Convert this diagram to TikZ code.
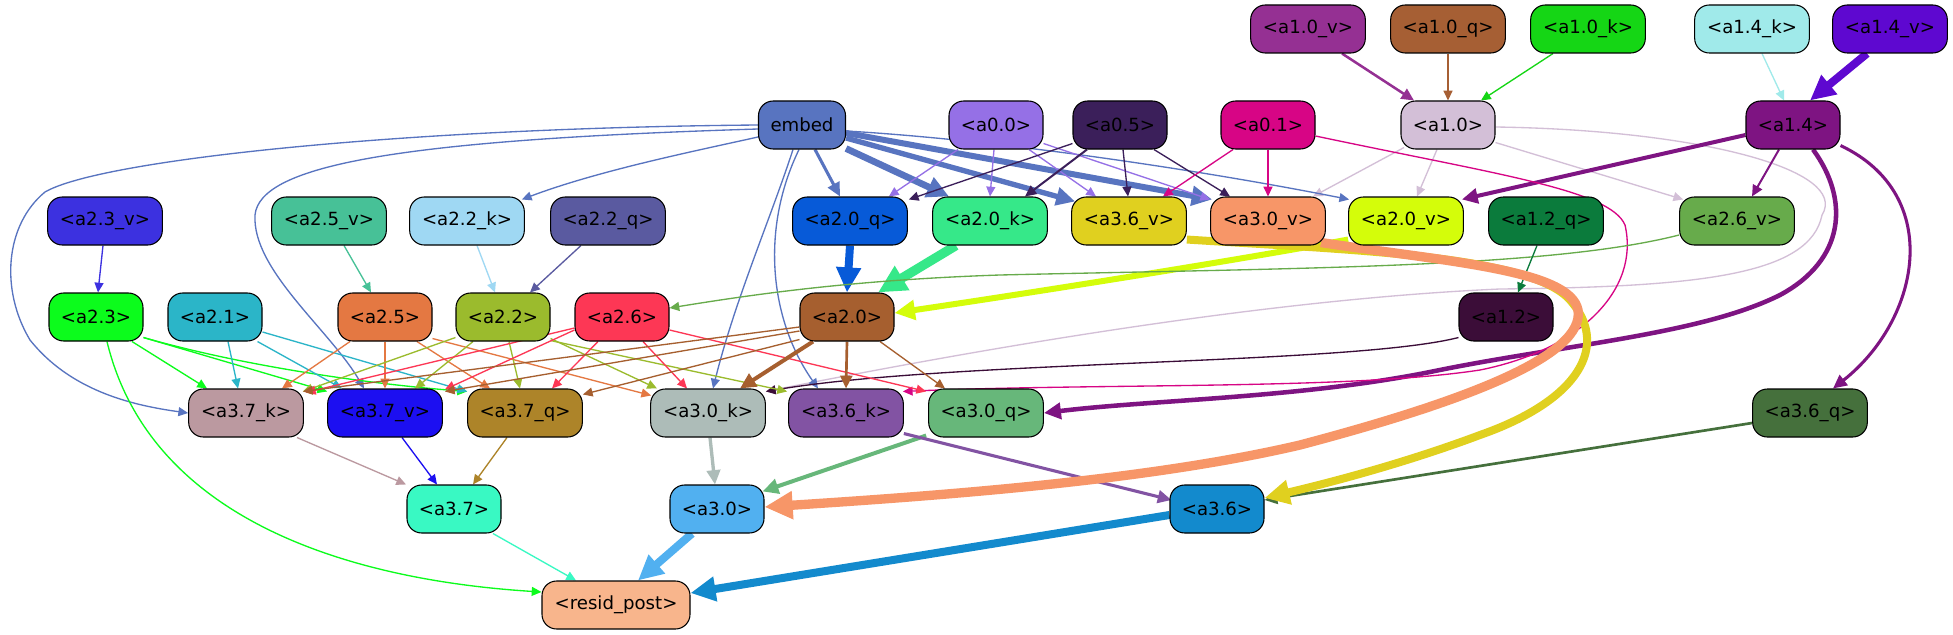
\documentclass[tikz,border=0pt]{standalone}
\usepackage{fontspec}
\setmainfont{DejaVu Sans}
\usetikzlibrary{arrows.meta,calc}
\pgfdeclarelayer{bg}
\pgfdeclarelayer{edges}
\pgfsetlayers{bg,edges,main}
\definecolor{cA10v}{HTML}{953093}
\definecolor{cA10q}{HTML}{A65F34}
\definecolor{cA10k}{HTML}{15D615}
\definecolor{cA14k}{HTML}{A0EAEA}
\definecolor{cA14v}{HTML}{5E08D0}
\definecolor{cEmb}{HTML}{5874C0}
\definecolor{cA00}{HTML}{9570E6}
\definecolor{cA05}{HTML}{3B1F5A}
\definecolor{cA01}{HTML}{D70585}
\definecolor{cA10}{HTML}{D3BFD7}
\definecolor{cA14}{HTML}{7E1482}
\definecolor{cA23v}{HTML}{3C31E0}
\definecolor{cA25v}{HTML}{47C197}
\definecolor{cA22k}{HTML}{9FD8F3}
\definecolor{cA22q}{HTML}{5A5AA0}
\definecolor{cA20q}{HTML}{075AD8}
\definecolor{cA20k}{HTML}{36E889}
\definecolor{cA36v}{HTML}{E0D01F}
\definecolor{cA30v}{HTML}{F79668}
\definecolor{cA20v}{HTML}{D4FD0A}
\definecolor{cA12q}{HTML}{0B7B3C}
\definecolor{cA26v}{HTML}{67AB4B}
\definecolor{cA23}{HTML}{0CFC1C}
\definecolor{cA21}{HTML}{2BB5C8}
\definecolor{cA25}{HTML}{E47842}
\definecolor{cA22}{HTML}{9BBB2D}
\definecolor{cA26}{HTML}{FD3755}
\definecolor{cA20}{HTML}{A65F2F}
\definecolor{cA12}{HTML}{3B0D38}
\definecolor{cA37k}{HTML}{BB99A0}
\definecolor{cA37v}{HTML}{1C0FF1}
\definecolor{cA37q}{HTML}{AD8429}
\definecolor{cA30k}{HTML}{ADBCB8}
\definecolor{cA36k}{HTML}{8253A3}
\definecolor{cA30q}{HTML}{67B77A}
\definecolor{cA36q}{HTML}{45703C}
\definecolor{cA37}{HTML}{39F9C3}
\definecolor{cA30}{HTML}{51B0F0}
\definecolor{cA36}{HTML}{138ACD}
\definecolor{cRes}{HTML}{F8B58C}
\begin{document}
\begin{tikzpicture}[x=0.75pt,y=-0.75pt,
  box/.style={draw=black, line width=0.8pt, rounded corners=11pt, minimum height=36pt, inner sep=0pt, font=\fontsize{13.6}{16}\selectfont, text=black},
  bw/.style={box, minimum width=86pt},
  bs/.style={box, minimum width=70.5pt},
  e/.style={-{Triangle[length=5pt 2.3,width=4.5pt 2.2]}, line width=1pt, line join=round},
]
\useasboundingbox (0,0) rectangle (1953,635);
\begin{pgfonlayer}{bg}
\fill[white] (0,0) rectangle (1953,635);
\end{pgfonlayer}
% row 0
\node[bw, fill=cA10v] (a10v) at (1308,29) {<a1.0\_v>};
\node[bw, fill=cA10q] (a10q) at (1448,29) {<a1.0\_q>};
\node[bw, fill=cA10k] (a10k) at (1588,29) {<a1.0\_k>};
\node[bw, fill=cA14k] (a14k) at (1752,29) {<a1.4\_k>};
\node[bw, fill=cA14v] (a14v) at (1890,29) {<a1.4\_v>};
% row 1
\node[box, minimum width=65.25pt, fill=cEmb] (embed) at (802,125) {embed};
\node[bs, fill=cA00] (a00) at (996,125) {<a0.0>};
\node[bs, fill=cA05] (a05) at (1120,125) {<a0.5>};
\node[bs, fill=cA01] (a01) at (1268,125) {<a0.1>};
\node[bs, fill=cA10] (a10) at (1448,125) {<a1.0>};
\node[bs, fill=cA14] (a14) at (1793,125) {<a1.4>};
% row 2
\node[bw, fill=cA23v] (a23v) at (105,221) {<a2.3\_v>};
\node[bw, fill=cA25v] (a25v) at (329,221) {<a2.5\_v>};
\node[bw, fill=cA22k] (a22k) at (467,221) {<a2.2\_k>};
\node[bw, fill=cA22q] (a22q) at (608,221) {<a2.2\_q>};
\node[bw, fill=cA20q] (a20q) at (850,221) {<a2.0\_q>};
\node[bw, fill=cA20k] (a20k) at (990,221) {<a2.0\_k>};
\node[bw, fill=cA36v] (a36v) at (1129,221) {<a3.6\_v>};
\node[bw, fill=cA30v] (a30v) at (1268,221) {<a3.0\_v>};
\node[bw, fill=cA20v] (a20v) at (1406,221) {<a2.0\_v>};
\node[bw, fill=cA12q] (a12q) at (1546,221) {<a1.2\_q>};
\node[bw, fill=cA26v] (a26v) at (1737,221) {<a2.6\_v>};
% row 3
\node[bs, fill=cA23] (a23) at (96,317) {<a2.3>};
\node[bs, fill=cA21] (a21) at (215,317) {<a2.1>};
\node[bs, fill=cA25] (a25) at (385,317) {<a2.5>};
\node[bs, fill=cA22] (a22) at (503,317) {<a2.2>};
\node[bs, fill=cA26] (a26) at (622,317) {<a2.6>};
\node[bs, fill=cA20] (a20) at (847,317) {<a2.0>};
\node[bs, fill=cA12] (a12) at (1506,317) {<a1.2>};
% row 4
\node[bw, fill=cA37k] (a37k) at (246,413) {<a3.7\_k>};
\node[bw, fill=cA37v] (a37v) at (385,413) {<a3.7\_v>};
\node[bw, fill=cA37q] (a37q) at (525,413) {<a3.7\_q>};
\node[bw, fill=cA30k] (a30k) at (708,413) {<a3.0\_k>};
\node[bw, fill=cA36k] (a36k) at (846,413) {<a3.6\_k>};
\node[bw, fill=cA30q] (a30q) at (986,413) {<a3.0\_q>};
\node[bw, fill=cA36q] (a36q) at (1810,413) {<a3.6\_q>};
% row 5
\node[bs, fill=cA37] (a37) at (454,509) {<a3.7>};
\node[bs, fill=cA30] (a30) at (717,509) {<a3.0>};
\node[bs, fill=cA36] (a36) at (1217,509) {<a3.6>};
% row 6
\node[box, minimum width=111pt, fill=cRes] (res) at (616,605) {<resid\_post>};

\begin{pgfonlayer}{edges}
% top
\draw[e,color=cA10v,line width=1.9pt] ($(a10v.south)+(34,0)$) -- ($(a10.north)+(-34,0)$);
\draw[e,color=cA10q] (a10q.south) -- (a10.north);
\draw[e,color=cA10k] ($(a10k.south)+(-35,0)$) -- ($(a10.north)+(33,0)$);
\draw[e,color=cA14k] ($(a14k.south)+(10,0)$) -- ($(a14.north)+(-9,0)$);
\draw[e,color=cA14v,line width=6pt] ($(a14v.south)+(-23,0)$) -- ($(a14.north)+(17,0)$);
% a1.0
\draw[e,color=cA10] ($(a10.south)+(-44,-2)$) -- ($(a30v.north)+(45,0)$);
\draw[e,color=cA10] ($(a10.south)+(-11,0)$) -- ($(a20v.north)+(11,0)$);
\draw[e,color=cA10] ($(a10.south east)+(0,-7)$) -- ($(a26v.north west)+(4,3)$);
\draw[e,color=cA10] ($(a10.east)+(0,2)$) .. controls (1700,130) and (1850,170) .. (1822,215) .. controls (1810,275) and (1700,287) .. (1500,289) .. controls (1250,300) and (950,355) .. ($(a30k.north east)+(0,3)$);
% a1.4
\draw[e,color=cA14,line width=3pt] ($(a14.west)+(0,10)$) -- ($(a20v.north east)+(-2,3)$);
\draw[e,color=cA14,line width=1.5pt] ($(a14.south)+(-14,0)$) -- ($(a26v.north)+(15,0)$);
\draw[e,color=cA14,line width=3.4pt] ($(a14.south)+(20,0)$) .. controls (1850,200) and (1845,260) .. (1780,295) .. controls (1700,335) and (1560,345) .. (1430,372) .. controls (1300,398) and (1150,400) .. (a30q.east);
\draw[e,color=cA14,line width=2.3pt] ($(a14.south east)+(0,-4)$) .. controls (1945,195) and (1920,320) .. ($(a36q.north)+(23,0)$);
% embed
\draw[e,color=cEmb,line width=2.3pt] ($(embed.south)+(13,0)$) -- ($(a20q.north)+(-10,0)$);
\draw[e,color=cEmb,line width=5pt] ($(embed.south east)+(0,-1)$) -- ($(a20k.north)+(-41,0)$);
\draw[e,color=cEmb,line width=4pt] ($(embed.east)+(0,13)$) -- ($(a36v.north west)+(4,5)$);
\draw[e,color=cEmb,line width=4.5pt] ($(embed.east)+(0,8)$) -- ($(a30v.north west)+(2,3)$);
\draw[e,color=cEmb] ($(embed.east)+(0,6)$) .. controls (1000,140) and (1200,170) .. ($(a20v.north west)+(1,3)$);
\draw[e,color=cEmb] ($(embed.west)+(0,12)$) .. controls (700,150) and (600,170) .. ($(a22k.north east)+(-3,3)$);
\draw[e,color=cEmb] (embed.west) .. controls (400,128) and (100,160) .. (45,192) .. controls (5,225) and (0,290) .. (30,340) .. controls (70,390) and (130,405) .. (a37k.west);
\draw[e,color=cEmb] ($(embed.west)+(0,4)$) .. controls (400,140) and (260,165) .. (255,215) .. controls (252,270) and (330,330) .. ($(a37v.north)+(-21,0)$);
\draw[e,color=cEmb] ($(embed.south)+(-9,0)$) .. controls (770,220) and (735,300) .. ($(a30k.north)+(5,0)$);
\draw[e,color=cEmb] ($(embed.south)+(-3,0)$) .. controls (760,230) and (770,320) .. ($(a36k.north)+(-28,0)$);
% a0.0
\draw[e,color=cA00] ($(a00.south)+(-38,0)$) -- ($(a20q.north east)+(-19,0)$);
\draw[e,color=cA00] ($(a00.south)+(-2,0)$) -- (a20k.north);
\draw[e,color=cA00] ($(a00.south)+(33,0)$) -- ($(a36v.north)+(-33,0)$);
\draw[e,color=cA00] ($(a00.south east)+(0,-6)$) -- ($(a30v.north west)+(0,3)$);
% a0.5
\draw[e,color=cA05] ($(a05.south west)+(0,-6)$) -- ($(a20q.north east)+(1,3)$);
\draw[e,color=cA05,line width=1.5pt] ($(a05.south)+(-33,0)$) -- ($(a20k.north)+(35,0)$);
\draw[e,color=cA05] ($(a05.south)+(3,0)$) -- ($(a36v.north)+(-1,0)$);
\draw[e,color=cA05] ($(a05.south)+(34,0)$) -- ($(a30v.north)+(-38,0)$);
% a0.1
\draw[e,color=cA01] ($(a01.south)+(-35,0)$) -- ($(a36v.north)+(34,0)$);
\draw[e,color=cA01] (a01.south) -- (a30v.north);
\draw[e,color=cA01] ($(a01.east)+(0,11)$) .. controls (1500,175) and (1610,190) .. (1625,225) .. controls (1640,290) and (1580,350) .. (1480,370) .. controls (1350,390) and (1100,383) .. ($(a36k.north east)+(-1,3)$);
% row 2 -> row 3
\draw[e,color=cA23v] ($(a23v.south)+(-2,0)$) -- ($(a23.north)+(2,0)$);
\draw[e,color=cA25v] ($(a25v.south)+(15,0)$) -- ($(a25.north)+(-14,0)$);
\draw[e,color=cA22k] ($(a22k.south)+(10,0)$) -- ($(a22.north)+(-8,0)$);
\draw[e,color=cA22q] ($(a22q.south)+(-27,0)$) -- ($(a22.north)+(27,0)$);
\draw[e,color=cA20q,line width=6pt] (a20q.south) -- (a20.north);
\draw[e,color=cA20k,line width=7pt] ($(a20k.south)+(-34,0)$) -- ($(a20.north)+(31,0)$);
\draw[e,color=cA20v,line width=4.5pt] ($(a20v.south west)+(0,-6)$) .. controls (1250,258) and (1050,290) .. ($(a20.east)+(0,-4)$);
\draw[e,color=cA26v] ($(a26v.west)+(0,14)$) .. controls (1550,268) and (1300,268) .. (1000,275) .. controls (850,280) and (750,295) .. ($(a26.east)+(0,-9)$);
\draw[e,color=cA12q] ($(a12q.south)+(-9,0)$) -- ($(a12.north)+(12,0)$);
\draw[e,color=cA12] ($(a12.south west)+(0,-4)$) .. controls (1350,365) and (950,360) .. ($(a30k.north east)+(0,3)$);
% a2.3
\draw[e,color=cA23] ($(a23.south)+(36,0)$) -- ($(a37k.north)+(-39,0)$);
\draw[e,color=cA23] ($(a23.south east)+(0,-4)$) -- ($(a37v.north west)+(0,3)$);
\draw[e,color=cA23] ($(a23.south east)+(0,-4)$) .. controls (250,368) and (380,385) .. ($(a37q.north west)+(0,3)$);
\draw[e,color=cA23] ($(a23.south)+(11,0)$) .. controls (150,520) and (350,580) .. ($(res.west)+(0,-13)$);
% a2.1
\draw[e,color=cA21] ($(a21.south)+(13,0)$) -- ($(a37k.north)+(-8,0)$);
\draw[e,color=cA21] ($(a21.south east)+(-5,0)$) -- ($(a37v.north)+(-43,0)$);
\draw[e,color=cA21] ($(a21.east)+(0,15)$) -- ($(a37q.north west)+(0,3)$);
% a2.5
\draw[e,color=cA25] ($(a25.south)+(-35,0)$) -- ($(a37k.north)+(36,0)$);
\draw[e,color=cA25] (a25.south) -- (a37v.north);
\draw[e,color=cA25] ($(a25.south)+(32,0)$) -- ($(a37q.north)+(-35,0)$);
\draw[e,color=cA25] ($(a25.south east)+(0,-3)$) -- ($(a30k.north west)+(1,7)$);
% a2.2
\draw[e,color=cA22] ($(a22.south west)+(0,-4)$) -- ($(a37k.north east)+(-1,3)$);
\draw[e,color=cA22] ($(a22.south)+(-30,0)$) -- ($(a37v.north)+(30,0)$);
\draw[e,color=cA22] ($(a22.south)+(6,0)$) -- ($(a37q.north)+(-5,0)$);
\draw[e,color=cA22] ($(a22.south east)+(0,-3)$) -- ($(a30k.north)+(-51,0)$);
\draw[e,color=cA22] ($(a22.south east)+(0,-1)$) -- ($(a36k.north west)+(-1,3)$);
% a2.6
\draw[e,color=cA26] ($(a26.west)+(0,11)$) -- ($(a37k.north east)+(2,4)$);
\draw[e,color=cA26] ($(a26.west)+(0,13)$) -- ($(a37v.north east)+(2,1)$);
\draw[e,color=cA26] ($(a26.south)+(-24,0)$) -- ($(a37q.north)+(27,0)$);
\draw[e,color=cA26] ($(a26.south)+(21,0)$) -- ($(a30k.north)+(-21,0)$);
\draw[e,color=cA26] ($(a26.east)+(0,13)$) -- ($(a30q.north west)+(-2,3)$);
% a2.0
\draw[e,color=cA20] ($(a20.west)+(0,10)$) -- ($(a37k.north east)+(-1,3)$);
\draw[e,color=cA20] ($(a20.west)+(0,14)$) -- ($(a37v.north east)+(2,3)$);
\draw[e,color=cA20] ($(a20.south west)+(0,-2)$) -- ($(a37q.north east)+(0,6)$);
\draw[e,color=cA20,line width=3pt] ($(a20.south)+(-34,0)$) -- ($(a30k.north)+(32,0)$);
\draw[e,color=cA20,line width=2pt] (a20.south) -- (a36k.north);
\draw[e,color=cA20] ($(a20.south)+(33,0)$) -- ($(a30q.north)+(-41,0)$);
% row 4 -> row 5
\draw[e,color=cA37k] ($(a37k.south)+(51,0)$) -- ($(a37.north)+(-48,0)$);
\draw[e,color=cA37v] ($(a37v.south)+(17,0)$) -- ($(a37.north)+(-17,0)$);
\draw[e,color=cA37q] ($(a37q.south)+(-18,0)$) -- ($(a37.north)+(19,0)$);
\draw[e,color=cA30k,line width=2.5pt] ($(a30k.south)+(2,0)$) -- ($(a30.north)+(-2,0)$);
\draw[e,color=cA30q,line width=3pt] ($(a30q.south west)+(-2,-2)$) -- ($(a30.north east)+(-2,7)$);
\draw[e,color=cA36k,line width=2.3pt] ($(a36k.south east)+(0,-4)$) -- ($(a36.west)+(2,-9)$);
\draw[e,color=cA36q,line width=2pt] ($(a36q.west)+(0,10)$) -- ($(a36.east)+(0,-9)$);
\draw[e,color=cA36v,line width=6pt] ($(a36v.south east)+(0,-6)$) .. controls (1350,250) and (1530,255) .. (1570,300) .. controls (1610,345) and (1580,400) .. (1480,435) .. controls (1400,465) and (1320,485) .. ($(a36.east)+(0,-11)$);
\draw[e,color=cA30v,line width=7pt] ($(a30v.south east)+(-5,-3)$) .. controls (1450,262) and (1570,270) .. (1578,310) .. controls (1585,355) and (1470,400) .. (1300,445) .. controls (1150,480) and (950,495) .. ($(a30.east)+(0,-2)$);
% row 5 -> resid
\draw[e,color=cA37] ($(a37.south)+(39,0)$) -- ($(res.north)+(-40,0)$);
\draw[e,color=cA30,line width=6pt] ($(a30.south)+(-25,0)$) -- ($(res.north)+(22,0)$);
\draw[e,color=cA36,line width=6pt] ($(a36.west)+(0,6)$) -- ($(res.east)+(0,-12)$);
\end{pgfonlayer}
\end{tikzpicture}
\end{document}
